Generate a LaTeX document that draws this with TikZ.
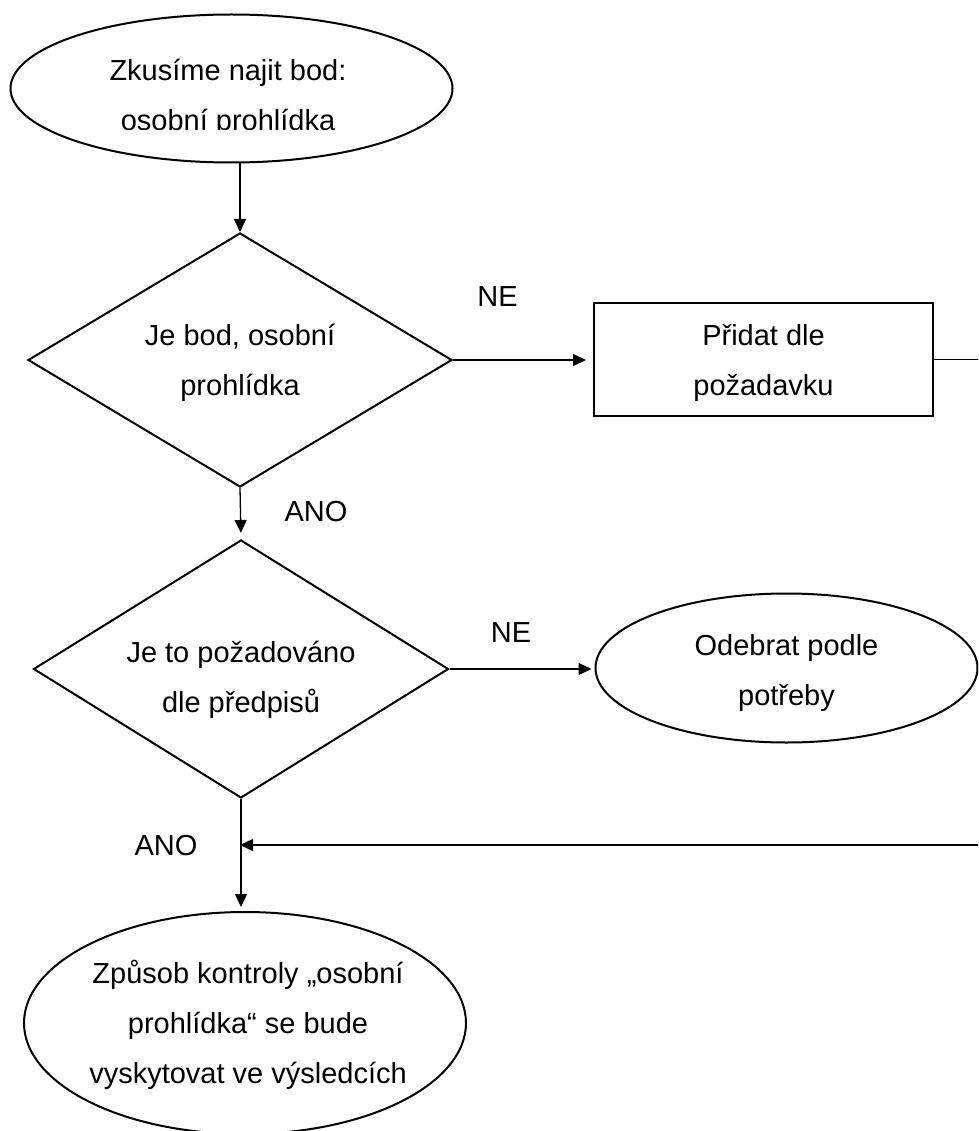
\documentclass[tikz,border=0pt]{standalone}
\usepackage{fontspec}
\setmainfont{Liberation Sans}
\usetikzlibrary{shapes.geometric,arrows.meta}

\begin{document}
\begin{tikzpicture}[x=1pt,y=-1pt,
  every node/.style={font=\fontsize{29}{50}\selectfont, align=center, inner sep=0pt},
  shapeline/.style={draw=black, line width=2pt},
  oval/.style={shapeline, ellipse},
  decision/.style={shapeline, diamond, aspect=1.65},
  process/.style={shapeline, rectangle},
  % multi-line text boxes have their baseline on the last line
  twolines/.style={text height=71pt, text depth=0pt},
  flow/.style={line width=1.3pt, -{Triangle[length=13pt,width=12pt]}},
  lbl/.style={text height=21pt, text depth=0pt},
]
\useasboundingbox (0,0) rectangle (978,1131);
\clip (0,0) rectangle (978,1131);

% start
\node[oval, minimum width=442pt, minimum height=148pt] (start) at (231.5,88.5) {};
\begin{scope}
  \clip (0,0) rectangle (978,130);
  \node[twolines] (starttext) at (228,95) {Zkusíme najit bod:\\osobní prohlídka};
\end{scope}

% first decision
\node[decision, twolines, minimum width=424pt, minimum height=254pt] (d1) at (240,360)
  {Je bod, osobní\\prohlídka};
\node[process, twolines, minimum width=339pt, minimum height=113pt] (add) at (763.5,359.5)
  {Přidat dle\\požadavku};

% second decision
\node[decision, text height=86pt, text depth=0pt, minimum width=415pt, minimum height=258pt] (d2) at (241,669)
  {Je to požadováno\\dle předpisů};
\node[oval, text height=74pt, text depth=0pt, minimum width=382pt, minimum height=149pt] (rem) at (786.5,668)
  {Odebrat podle\\potřeby};

% result
\node[oval, minimum width=442pt, minimum height=222pt] (end) at (245,1023) {};
\node[text height=120pt, text depth=0pt] (endtext) at (248,1023)
  {Způsob kontroly „osobní\\prohlídka“ se bude\\vyskytovat ve výsledcích};

% labels
\node[lbl] (ne1) at (497.5,296) {NE};
\node[lbl] (ne2) at (511,632) {NE};
\node[lbl] (ano1) at (316,510.5) {ANO};
\node[lbl] (ano2) at (166,845) {ANO};

\coordinate (join) at (240,845);

% connectors
\draw[flow] (start.south -| d1.north) -- (d1.north);
\draw[flow, shorten >=7pt] (d1.east) -- (d1.east -| add.west);
\draw[flow, shorten >=6pt] (d1.south) -- (d2.north);
\draw[flow, shorten >=3pt] (d2.east) -- (d2.east -| rem.west);
\draw[flow, shorten >=4pt] (d2.south) -- (d2.south |- end.north);
\draw[flow] (add.east) -- ++(80,0) |- (join);
\end{tikzpicture}
\end{document}
